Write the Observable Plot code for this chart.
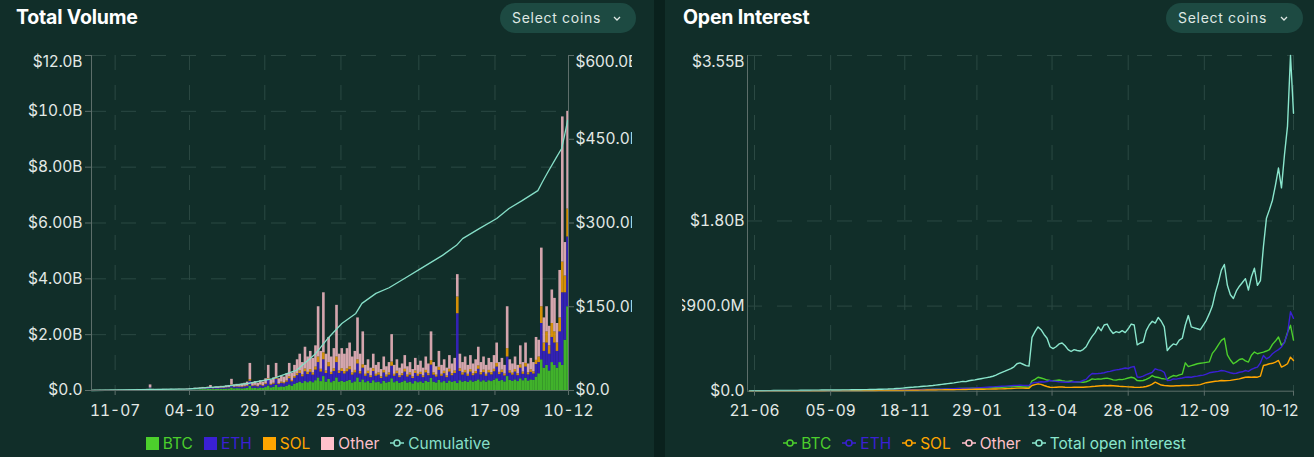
<!DOCTYPE html>
<html>
<head>
<meta charset="utf-8">
<script src="https://cdn.jsdelivr.net/npm/d3@7"></script>
<script src="https://cdn.jsdelivr.net/npm/@observablehq/plot@0.6"></script>
<style>
  html, body { margin:0; padding:0; }
  body { width:1314px; height:457px; position:relative; overflow:hidden; background:#112e29; font-family: Inter, "Noto Sans", sans-serif; }
  .divider { position:absolute; left:654px; top:0; width:11px; height:457px; background:#0a211d; }
  .title { position:absolute; top:4px; font-size:19.5px; font-weight:700; color:#ffffff; line-height:26px; letter-spacing:-0.2px; }
  .btn { position:absolute; top:3px; height:30px; border-radius:15px; background:#1d4a42; color:#dfe8e4; font-size:14px; letter-spacing:0.7px; line-height:30px; padding-left:12px; box-sizing:border-box; }
  .btn svg { position:absolute; right:15px; top:13px; }
  .chart { position:absolute; top:40px; overflow:hidden; }
  .legend { position:absolute; top:433px; height:20px; display:flex; justify-content:center; align-items:center; font-size:15.5px; white-space:nowrap; }
  .item { display:flex; align-items:center; margin:0 5.5px; }
  .sq { width:13px; height:13px; margin-right:4px; }
  .ln { margin-right:4px; }
</style>
</head>
<body>
<div class="divider"></div>
<div class="title" style="left:16px">Total Volume</div>
<div class="btn" style="left:500px;width:136px">Select coins<svg width="8" height="5" viewBox="0 0 8 5"><path d="M1 1 L4 4 L7 1" fill="none" stroke="#dfe8e4" stroke-width="1.3"/></svg></div>
<div class="title" style="left:683px">Open Interest</div>
<div class="btn" style="left:1166px;width:137px">Select coins<svg width="8" height="5" viewBox="0 0 8 5"><path d="M1 1 L4 4 L7 1" fill="none" stroke="#dfe8e4" stroke-width="1.3"/></svg></div>
<div id="vol" class="chart" style="left:0;width:632px;height:380px"></div>
<div id="oi" class="chart" style="left:682px;width:632px;height:380px"></div>
<div id="volLegend" class="legend" style="left:0;width:636px"></div>
<div id="oiLegend" class="legend" style="left:665px;width:639px"></div>
<script>
// ---------------- DATA ----------------
const domainStartStr = "2023-06-14";
const domainEndStr = "2024-12-10";

// Total volume: daily volume ($M), one value per 3-day bucket starting 2023-06-14
const volStart = "2023-06-14";
const volStepDays = 3;
const coins = ["BTC", "ETH", "SOL", "Other"];
const btcVol = [
  8,10,9,12,10,11,9,13,12,10, 14,12,11,13,15,12,14,16,13,15, 14,17,60,18,15,16,14,18,17,15, 19,16,18,22,20,
  14,17,18,21,26,24,29,33,30,36, 45,33,39,37,45,42,50,54,90,60, 66,63,
  58,65,75,150,70,80,65,88,75,105, 160,95,112,180,105,130,120,150,200,155,
  220,260,300,250,320,280,320,280,350,450, 320,500,300,400,280,330,450,300,330,290, 330,360,270,310,450,290,380,
  280,320,260,350,280,300,240,330,270,300, 420,280,320,260,290,340,270,300,240,320,
  280,310,260,330,290,430,300,270,360,280, 320,260,340,290,320,250,350,300,330,290,
  350,300,330,380,310,350,300,350,320,370, 420,330,360,310,500,360,330,380,320,420,
  350,440,340,380,360,480,
  600,1100,800,900,700,1000,900,800,1000,900,1800,3000
];
const ethVol = [
  4,5,5,6,5,6,5,7,6,5, 7,6,6,7,8,6,7,8,7,8, 7,9,30,9,8,8,7,9,9,8, 10,8,9,11,10,
  11,14,15,18,21,20,24,27,25,30, 40,27,32,31,37,35,41,45,90,50, 55,52,
  55,65,75,180,70,80,65,88,75,105, 200,95,112,220,105,130,120,150,220,155,
  220,270,310,240,350,290,330,270,380,550, 340,600,310,450,290,350,550,310,350,300, 340,380,280,320,500,300,420,
  230,280,200,330,230,250,190,300,210,250, 450,230,280,200,240,320,210,250,190,290,
  230,260,200,300,240,480,250,210,360,230, 280,200,320,240,290,2500,330,250,300,220,
  310,230,270,380,250,290,210,280,240,300, 420,240,280,210,700,260,220,280,210,380,
  230,400,220,270,230,450,
  400,1300,600,800,600,900,800,600,1100,2600,1700,2500
];
const solVol = [
  0,0,0,0,0,0,0,0,0,0, 0,0,0,0,0,0,0,0,0,0, 0,0,0,0,0,0,0,0,0,0, 0,0,0,0,0,
  2,3,3,4,4,4,5,6,5,6, 15,6,7,6,8,7,8,9,20,10, 11,10,
  17,20,25,60,22,25,20,28,24,34, 60,30,36,70,34,42,38,48,70,50,
  60,70,90,70,100,80,100,80,110,200, 100,250,90,150,80,100,200,90,100,90, 100,110,80,90,150,90,120,
  70,90,60,100,70,80,60,90,70,80, 150,70,90,60,70,100,70,80,60,90,
  70,80,60,90,70,160,80,70,110,70, 90,60,100,70,90,600,100,80,90,70,
  90,70,80,120,80,90,70,90,80,90, 130,80,90,70,300,80,70,90,70,120,
  80,130,70,90,80,150,
  200,600,300,400,300,500,400,300,500,1100,600,1000
];
const otherVol = [
  6,8,7,9,8,9,7,10,9,8, 11,9,9,10,12,9,11,13,10,12, 11,14,110,14,12,13,11,14,13,12, 15,13,14,17,16,
  18,21,24,27,34,32,37,44,40,48, 80,44,52,51,60,56,66,72,200,80, 88,85,
  100,110,125,580,118,135,110,146,126,176, 480,160,190,500,176,218,202,252,480,260,
  400,500,600,440,780,550,650,520,760,1800, 640,2150,600,900,550,720,1850,600,720,620, 730,850,570,680,1500,620,1180,
  320,410,280,520,320,370,260,480,300,370, 980,320,410,280,350,490,300,370,260,450,
  320,400,280,480,350,1030,370,300,570,320, 410,280,490,350,450,800,520,370,480,320,
  500,350,420,670,360,470,320,430,360,490, 730,350,420,310,1500,400,330,450,300,680,
  340,730,320,410,330,820,
  600,2100,900,900,700,1200,1200,700,1700,5200,1200,3500
];

// Cumulative volume ($B)
const cumDates = ["2023-06-14","2023-10-03","2023-11-10","2023-12-11","2024-01-06","2024-02-03","2024-02-25","2024-03-11","2024-03-26","2024-04-11","2024-04-18","2024-05-04","2024-05-19","2024-06-07","2024-06-26","2024-07-19","2024-08-04","2024-08-11","2024-08-30","2024-09-19","2024-10-03","2024-10-18","2024-11-05","2024-11-10","2024-11-16","2024-11-26","2024-12-02","2024-12-05","2024-12-09"];
const cumValues = [0,3,7,13,21,36,66,95,120,138,156,174,184,202,220,242,260,272,290,308,326,340,358,373,390,417,433,453,484];

// Open interest ($M), one value every 3 days starting 2023-06-16
const oiStart = "2023-06-16";
const oiStepDays = 3;
const oiSeries = ["BTC", "ETH", "SOL", "Total open interest"];
const totalOI = [
  3,4,4,5,5,5,6,6,7,7, 7,8,8,8,9,9,9,10,10,10, 10,11,11,11,12,12,12,13,13,13,
  13,14,14,14,15,15,16,16,17,17, 18,18,19,20,21,22,23,25,26,28, 30,33,36,39,41,44,46,49,52,54,
  57,60,64,68,72,76,80,84,88,93, 98,104,101,110,116,120,126,132,138,144, 150,158,170,185,200,212,226,238,258,290,
  300,285,270,265,570,630,680,650,600,560, 470,450,470,500,510,480,440,420,440,430, 425,440,470,530,580,620,680,640,700,710,
  650,610,630,620,640,620,660,710,700,490, 510,520,640,700,740,720,780,740,680,430, 470,500,490,540,560,700,800,680,670,660,
  650,700,750,820,900,1040,1150,1280,1340,1120, 1020,980,1060,1110,1150,1190,1070,1210,1300,1120, 1170,1530,1830,1920,2020,2180,2360,2150,2500,2800,
  3550,2940
];
const btcOI = [
  1,1,1,2,2,2,2,2,3,3, 3,3,3,3,4,4,4,4,4,5, 5,5,5,5,5,6,6,6,6,6,
  6,7,7,7,7,8,8,8,8,9, 9,9,10,10,10,11,11,12,12,13, 13,14,14,15,15,16,17,17,18,18,
  19,20,21,22,22,23,24,25,26,27, 28,29,29,30,31,32,33,34,35,36, 37,38,39,40,42,44,46,47,48,49,
  47,45,44,43,110,125,148,140,130,118, 113,110,115,118,110,106,104,108,100,98, 96,95,100,112,130,125,130,128,135,138,
  130,120,117,125,122,130,140,148,140,112, 110,113,125,140,166,150,145,135,130,128, 150,166,160,172,180,300,260,270,280,290,
  295,300,305,310,400,440,490,537,560,385, 330,290,310,335,343,320,308,380,414,396, 405,414,425,440,495,530,573,485,515,620,
  697,540
];
const ethOI = [
  1,1,1,1,2,2,2,2,2,2, 3,3,3,3,3,3,4,4,4,4, 4,4,5,5,5,5,5,5,6,6,
  6,6,6,7,7,7,7,8,8,8, 8,9,9,9,10,10,11,11,12,12, 13,13,14,14,15,16,16,17,18,18,
  19,20,21,22,23,24,25,26,27,28, 29,30,31,32,33,34,36,38,40,42, 44,46,48,50,52,54,56,58,60,62,
  64,62,60,60,85,92,95,100,98,102, 113,108,104,100,98,95,95,97,100,98, 100,113,125,160,187,185,187,190,195,205,
  210,219,225,230,237,245,240,255,261,150, 148,160,175,187,200,237,225,219,200,113, 115,130,128,135,140,148,150,148,155,160,
  166,170,180,195,201,205,210,219,215,205, 195,187,190,200,205,219,210,230,245,255, 300,378,343,360,396,420,440,467,520,608,
  840,770
];
const solOI = [
  0,0,0,0,0,1,1,1,1,1, 1,1,1,1,1,1,1,2,2,2, 2,2,2,2,2,2,3,3,3,3,
  3,3,3,3,4,4,4,4,4,5, 5,5,5,6,6,6,7,7,7,8, 8,8,9,9,10,10,10,11,11,12,
  12,13,13,14,14,15,15,16,16,17, 17,18,18,19,19,20,20,21,21,22, 22,23,24,25,25,26,27,28,30,32,
  33,32,31,30,60,70,78,72,60,50, 42,40,42,44,45,42,40,40,42,43, 42,42,44,46,50,52,55,58,60,58,
  60,58,55,52,50,48,46,45,42,40, 42,45,50,60,75,95,80,65,60,58, 55,55,57,58,60,60,60,62,64,66,
  70,80,90,95,100,105,108,113,110,112, 115,120,125,130,140,148,150,148,150,148, 160,272,280,290,295,308,325,255,270,290,
  360,325
];

// Axes ticks and labels
const volYTicks = [0, 2e9, 4e9, 6e9, 8e9, 10e9, 12e9];
const volYLabels = ["$0.0", "$2.00B", "$4.00B", "$6.00B", "$8.00B", "$10.0B", "$12.0B"];
const cumYTicks = [0, 150e9, 300e9, 450e9, 600e9];
const cumYLabels = ["$0.0", "$150.0B", "$300.0B", "$450.0B", "$600.0B"];
const volXTicks = ["2023-07-11", "2023-10-04", "2023-12-29", "2024-03-25", "2024-06-22", "2024-09-17", "2024-12-10"];
const oiYTicks = [0, 0.9e9, 1.8e9, 3.55e9];
const oiYLabels = ["$0.0", "$900.0M", "$1.80B", "$3.55B"];
const oiXTicks = ["2023-06-21", "2023-09-05", "2023-11-18", "2024-01-29", "2024-04-13", "2024-06-28", "2024-09-12", "2024-12-10"];

// Styling
const coinColors = ["#4ccf2c", "#3a20d4", "#ffa500", "#ffc0cb"];
const cumColor = "#86dfc8";
const oiColors = ["#4ccf2c", "#3a20d4", "#ffa500", "#8ae6cd"];
const gridColor = "#2b4943";
const axisColor = "#5d6e6a";
const labelColor = "#e3e9e6";

// ---------------- BUILD ----------------
const DAY = 864e5;
const parse = s => new Date(s + "T00:00:00Z");
const domainStart = parse(domainStartStr), domainEnd = parse(domainEndStr);
const volAxisMax = volYTicks[volYTicks.length - 1];
const cumAxisMax = cumYTicks[cumYTicks.length - 1];
const cumScale = volAxisMax / cumAxisMax;

const volSeries = [btcVol, ethVol, solVol, otherVol];
const volRows = [];
const v0 = +parse(volStart);
for (let i = 0; i < btcVol.length; i++) {
  const d0 = new Date(v0 + i * volStepDays * DAY), d1 = new Date(v0 + (i + 1) * volStepDays * DAY);
  volSeries.forEach((arr, k) => volRows.push({date: d0, end: d1, coin: coins[k], value: (arr[i] || 0) * 1e6}));
}
const cumRows = cumDates.map((d, i) => ({date: parse(d), scaled: cumValues[i] * 1e9 * cumScale}));

const oiRows = [];
const o0 = +parse(oiStart);
[btcOI, ethOI, solOI, totalOI].forEach((arr, k) => {
  arr.forEach((v, j) => oiRows.push({date: new Date(o0 + j * oiStepDays * DAY), series: oiSeries[k], value: v * 1e6}));
});

const volYMap = new Map(volYTicks.map((t, i) => [t, volYLabels[i]]));
const cumYMap = new Map(cumYTicks.map((t, i) => [t * cumScale, cumYLabels[i]]));
const oiYMap = new Map(oiYTicks.map((t, i) => [t, oiYLabels[i]]));
const fmtX = d3.utcFormat("%d-%m");
const volXDates = volXTicks.map(parse);
const oiXDates = oiXTicks.map(parse);
const baseStyle = {background: "transparent", color: labelColor, fontSize: "15.5px", fontFamily: "Inter, 'Noto Sans', sans-serif", overflow: "hidden"};
const dash = {stroke: gridColor, strokeOpacity: 1, strokeDasharray: "15,15"};

const volPlot = Plot.plot({
  width: 632, height: 380,
  marginTop: 15, marginBottom: 30, marginLeft: 91, marginRight: 64,
  style: baseStyle,
  x: {type: "utc", domain: [domainStart, domainEnd], label: null},
  y: {domain: [0, volAxisMax], label: null},
  color: {domain: coins, range: coinColors},
  marks: [
    Plot.gridY(volYTicks.slice(1), dash),
    Plot.gridX(volXDates, dash),
    Plot.rectY(volRows, Plot.stackY({x1: "date", x2: "end", y: "value", fill: "coin", order: coins, fillOpacity: 0.82, clip: true})),
    Plot.line(cumRows, {x: "date", y: "scaled", stroke: cumColor, strokeWidth: 1.3}),
    Plot.ruleX([domainStart, domainEnd], {stroke: axisColor}),
    Plot.ruleY([0], {stroke: axisColor}),
    Plot.axisY(volYTicks, {anchor: "left", label: null, tickSize: 6, tickPadding: 3, stroke: axisColor, tickFormat: d => d === volAxisMax ? "" : volYMap.get(d)}),
    Plot.text([{d: domainStart, v: volAxisMax, t: volYMap.get(volAxisMax)}], {x: "d", y: "v", text: "t", textAnchor: "end", dx: -9, dy: 7, fill: labelColor}),
    Plot.axisY(cumYTicks.map(t => t * cumScale), {anchor: "right", label: null, tickSize: 5, tickPadding: 2, stroke: axisColor, tickFormat: d => d === volAxisMax ? "" : cumYMap.get(d)}),
    Plot.text([{d: domainEnd, v: volAxisMax, t: cumYLabels[cumYLabels.length - 1]}], {x: "d", y: "v", text: "t", textAnchor: "start", dx: 7, dy: 7, fill: labelColor}),
    Plot.axisX(volXDates, {anchor: "bottom", label: null, tickSize: 5, tickPadding: 9, stroke: axisColor, tickFormat: fmtX})
  ]
});
document.getElementById("vol").append(volPlot);

const lastOiX = oiXDates[oiXDates.length - 1];
const oiTop = oiYTicks[oiYTicks.length - 1];
const oiPlot = Plot.plot({
  width: 632, height: 380,
  marginTop: 15, marginBottom: 29.3, marginLeft: 65, marginRight: 21,
  style: baseStyle,
  x: {type: "utc", domain: [domainStart, domainEnd], label: null},
  y: {domain: [0, oiTop], label: null},
  color: {domain: oiSeries, range: oiColors},
  marks: [
    Plot.gridY(oiYTicks.slice(1), dash),
    Plot.gridX(oiXDates, dash),
    Plot.line(oiRows, {x: "date", y: "value", stroke: "series", z: "series", strokeWidth: 1.4}),
    Plot.ruleX([domainStart], {stroke: axisColor}),
    Plot.ruleY([0], {stroke: axisColor}),
    Plot.axisY(oiYTicks, {anchor: "left", label: null, tickSize: 0, tickPadding: 3, stroke: axisColor, tickFormat: d => d === oiTop ? "" : oiYMap.get(d)}),
    Plot.text([{d: domainStart, v: oiTop, t: oiYMap.get(oiTop)}], {x: "d", y: "v", text: "t", textAnchor: "end", dx: -3, dy: 7, fill: labelColor}),
    Plot.axisX(oiXDates, {anchor: "bottom", label: null, tickSize: 5, tickPadding: 9, stroke: axisColor, tickFormat: d => +d === +lastOiX ? "" : fmtX(d)}),
    Plot.text([{d: lastOiX, t: fmtX(lastOiX)}], {x: "d", text: "t", frameAnchor: "bottom", lineAnchor: "top", textAnchor: "end", dx: 5, dy: 14, fill: labelColor})
  ]
});
document.getElementById("oi").append(oiPlot);

// ---------------- LEGENDS ----------------
const bg = "#112e29";
function squareItem(name, color) {
  const el = document.createElement("span"); el.className = "item";
  el.innerHTML = `<span class="sq" style="background:${color}"></span><span style="color:${color}">${name}</span>`;
  return el;
}
function lineItem(name, color) {
  const el = document.createElement("span"); el.className = "item";
  el.innerHTML = `<svg class="ln" width="14" height="10" viewBox="0 0 14 10"><line x1="0" y1="5" x2="14" y2="5" stroke="${color}" stroke-width="1.5"/><circle cx="7" cy="5" r="3" fill="${bg}" stroke="${color}" stroke-width="1.5"/></svg><span style="color:${color}">${name}</span>`;
  return el;
}
const volLegend = document.getElementById("volLegend");
coins.forEach((c, i) => volLegend.append(squareItem(c, coinColors[i])));
volLegend.append(lineItem("Cumulative", cumColor));
const oiLegend = document.getElementById("oiLegend");
const oiLegendNames = ["BTC", "ETH", "SOL", "Other", "Total open interest"];
const oiLegendColors = [oiColors[0], oiColors[1], oiColors[2], coinColors[3], oiColors[3]];
oiLegendNames.forEach((n, i) => oiLegend.append(lineItem(n, oiLegendColors[i])));
</script>
</body>
</html>
